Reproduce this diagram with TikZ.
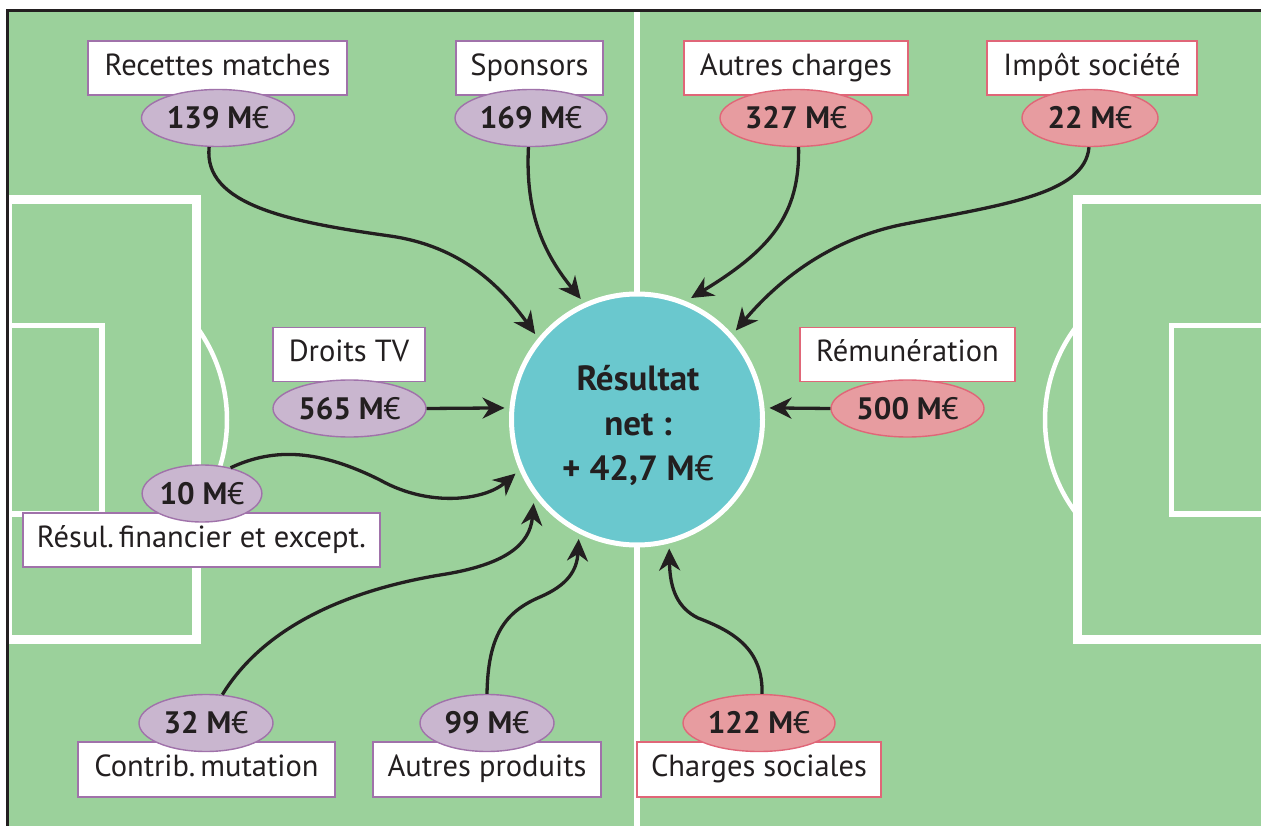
\documentclass[tikz,border=0pt]{standalone}
\usepackage{fontspec}
\setmainfont{PT Sans}
\usetikzlibrary{shapes.geometric,arrows.meta}
\definecolor{fieldgreen}{RGB}{155,209,155}
\definecolor{ink}{RGB}{35,31,32}
\definecolor{cyanfill}{RGB}{106,200,206}
\definecolor{purplefill}{RGB}{201,182,207}
\definecolor{purpleline}{RGB}{160,114,170}
\definecolor{redfill}{RGB}{231,156,160}
\definecolor{redline}{RGB}{224,102,120}
\begin{document}
\begin{tikzpicture}[x=1pt,y=-1pt,
  lbox/.style={rectangle, draw, line width=1.4pt, fill=white, inner sep=0pt,
    minimum height=54pt, text height=20.5pt, text depth=6pt,
    font=\fontsize{30.5}{36}\selectfont, text=ink},
  lrev/.style={lbox, draw=purpleline},
  lexp/.style={lbox, draw=redline},
  ell/.style={ellipse, line width=1.4pt, inner sep=0pt, minimum height=57pt,
    text height=21.5pt, text depth=0pt, font=\fontsize{31}{36}\selectfont\bfseries, text=ink},
  erev/.style={ell, draw=purpleline, fill=purplefill},
  eexp/.style={ell, draw=redline, fill=redfill},
  conn/.style={draw=ink, line width=3.3pt, -{Stealth[length=22pt,width=21pt,inset=7pt]}},
  markline/.style={draw=white}
]
\useasboundingbox (0,0) rectangle (1261,826);
% field
\fill[fieldgreen] (9,12) rectangle (1261,826);
\begin{scope}
  \clip (9,12) rectangle (1261,826);
  % centre line
  \draw[markline, line width=6pt] (637,12) -- (637,826);
  % left penalty area
  \draw[markline, line width=8.5pt] (8,199.5) rectangle (196.5,639.5);
  \draw[markline, line width=5.5pt] (8,325.5) rectangle (102,514);
  \begin{scope}
    \clip (196.5,0) rectangle (640,826);
    \draw[markline, line width=4.5pt] (69,420) circle[radius=158];
  \end{scope}
  % right penalty area
  \draw[markline, line width=8.5pt] (1077.5,199.5) rectangle (1275,639.5);
  \draw[markline, line width=5.5pt] (1171.5,325.5) rectangle (1275,514);
  \begin{scope}
    \clip (640,0) rectangle (1077.5,826);
    \draw[markline, line width=4.5pt] (1200,420) circle[radius=155];
  \end{scope}
\end{scope}
% border
\draw[ink, line width=3pt] (7.5,826) -- (7.5,10.5) -- (1261,10.5);

% central result
\node[circle, draw=white, line width=5pt, fill=cyanfill, minimum size=251pt,
  inner sep=0pt, outer sep=7.5pt] (res) at (637,419.5) {};
\node[font=\fontsize{35}{45}\selectfont\bfseries, align=center, text=ink]
  (restxt) at (638,425.5) {Résultat\\net :\\+ 42,7 M\textmd{€}};

% labels and amounts
\node[lrev, minimum width=259pt] (tRM) at (217.5,68) {Recettes matches};
\node[erev, minimum width=153pt] (e139) at (218,118) {139 M\textmd{€}};
\node[lrev, minimum width=147pt] (tSp) at (529.5,68) {Sponsors};
\node[erev, minimum width=152pt] (e169) at (531,118) {169 M\textmd{€}};
\node[lexp, minimum width=224pt] (tAC) at (796,68) {Autres charges};
\node[eexp, minimum width=152pt] (e327) at (796,118) {327 M\textmd{€}};
\node[lexp, minimum width=210pt] (tIS) at (1092,68) {Impôt société};
\node[eexp, minimum width=136pt] (e22) at (1090,118) {22 M\textmd{€}};

\node[lrev, minimum width=152pt] (tTV) at (349,354.5) {Droits TV};
\node[erev, minimum width=153pt] (e565) at (349.5,408.5) {565 M\textmd{€}};
\node[lexp, minimum width=215pt] (tRem) at (907.5,354.5) {Rémunération};
\node[eexp, minimum width=153pt] (e500) at (907.5,408.5) {500 M\textmd{€}};

\node[lrev, minimum width=357pt] (tRF) at (201.5,540) {Résul.\,financier et except.};
\node[erev, minimum width=108pt] (e10) at (202,493.5) {10 M\textmd{€}};

\node[lrev, minimum width=257pt, minimum height=55pt] (tCM) at (206.5,769.5) {Contrib.\,mutation};
\node[erev, minimum width=134pt] (e32) at (206,723) {32 M\textmd{€}};
\node[lrev, minimum width=228pt, minimum height=55pt] (tAP) at (487,769.5) {Autres produits};
\node[erev, minimum width=134pt] (e99) at (487,723) {99 M\textmd{€}};
\node[lexp, minimum width=244pt, minimum height=55pt] (tCS) at (759,769.5) {Charges sociales};
\node[eexp, minimum width=152pt] (e122) at (759,723) {122 M\textmd{€}};

% connectors
\draw[conn] (e139.253) .. controls (203,205) and (290,222) .. (390,236)
  .. controls (460,246) and (500,285) .. (res.140);
\draw[conn] (e169.265) .. controls (525,215) and (545,255) .. (res.115);
\draw[conn] (e327.275) .. controls (800,215) and (770,250) .. (res.66);
\draw[conn] (e22.268) .. controls (1085,195) and (1000,205) .. (900,225)
  .. controls (820,242) and (770,290) .. (res.42);
\draw[conn] (e565.east) -- (res.175);
\draw[conn] (e500.west) -- (res.5);
\draw[conn] (e10.42) .. controls (275,447) and (320,450) .. (380,480)
  .. controls (430,508) and (485,500) .. (res.204);
\draw[conn] (e32.60) .. controls (265,625) and (350,590) .. (440,575)
  .. controls (505,565) and (530,545) .. (res.219);
\draw[conn] (e99.north) .. controls (488,635) and (505,612) .. (540,597)
  .. controls (568,585) and (577,570) .. (res.244);
\draw[conn] (e122.84) .. controls (763,650) and (735,632) .. (698,618)
  .. controls (678,608) and (670,590) .. (res.284);
\end{tikzpicture}
\end{document}
